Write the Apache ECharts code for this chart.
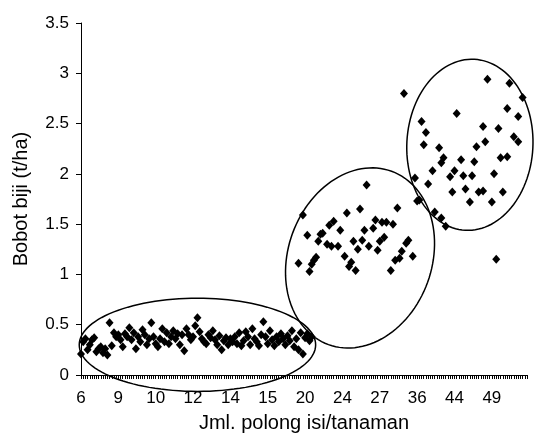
<!DOCTYPE html>
<html>
<head>
<meta charset="utf-8">
<script src="https://cdn.jsdelivr.net/npm/echarts@6/dist/echarts.min.js"></script>
<style>html,body{margin:0;padding:0;background:#fff}#c{width:539px;height:444px}</style>
</head>
<body>
<div id="c"></div>
<script>
// x-axis: 204 plants (sorted by pod count); a label every 17th plant
var tickLabels = ['6','9','10','12','14','15','20','24','27','36','44','49'];
var categoryCount = 204;
var labelStep = 17;

// Cluster 1: plants 0..105 (low yield)
var cluster1Y = [0.21,0.33,0.36,0.25,0.30,0.35,0.37,0.23,0.26,0.28,0.22,0.26,0.20,
  0.52,0.29,0.42,0.38,0.40,0.35,0.28,0.41,0.38,0.47,0.35,0.42,0.26,
  0.38,0.33,0.45,0.40,0.30,0.36,0.52,0.38,0.31,0.28,0.36,0.46,0.33,0.42,0.31,
  0.38,0.44,0.36,0.41,0.30,0.40,0.24,0.46,0.40,0.35,0.38,0.49,0.57,0.43,0.36,
  0.33,0.31,0.40,0.37,0.44,0.35,0.30,0.39,0.25,0.34,0.37,0.30,0.36,0.33,0.38,
  0.31,0.42,0.29,0.34,0.43,0.38,0.30,0.46,0.36,0.33,0.29,0.40,0.53,0.38,0.31,
  0.44,0.35,0.29,0.38,0.33,0.41,0.36,0.30,0.39,0.34,0.44,0.28,0.36,0.25,0.42,0.21,0.37,0.41,0.34,0.38];

// Cluster 2: plant index and yield
var cluster2X = [99,101,103,104,105,106,107,108,109,110,112,113,114,115,117,118,120,121,122,123,124,125,126,127,128,129,130,131,133,134,135,136,137,138,139,141,142,143,144,145,146,148,149,151];
var cluster2Y = [1.11,1.59,1.39,1.03,1.10,1.14,1.17,1.33,1.40,1.41,1.30,1.49,1.28,1.53,1.28,1.44,1.18,1.61,1.08,1.12,1.33,1.04,1.25,1.65,1.34,1.44,1.89,1.28,1.46,1.54,1.24,1.33,1.52,1.37,1.52,1.04,1.50,1.14,1.66,1.16,1.23,1.31,1.34,1.18];

// Cluster 3: plant index and yield
var cluster3X = [147,152,153,154,155,156,157,158,160,161,163,164,164,166,165,168,169,170,171,173,174,175,177,178,179,180,181,183,183,184,185,187,188,189,190,191,192,194,194,195,197,199,199,201];
var cluster3Y = [2.80,1.96,1.73,1.74,2.52,2.29,2.41,1.90,2.03,1.62,2.26,2.11,1.56,1.48,2.16,1.97,1.82,2.03,2.60,2.14,1.98,1.85,1.72,1.98,2.12,2.27,1.82,1.83,2.47,2.32,2.94,1.72,2.00,1.15,2.45,2.16,1.82,2.17,2.65,2.90,2.37,2.32,2.57,2.76];

// Ellipses: [centre index, centre yield, half-width (plants), half-height (t/ha), tilt deg]
var ellipses = [[53.3,0.30,53.8,0.463,0],[126.5,1.164,32.7,0.917,20],[177,2.289,28.7,0.851,3]];

var categories = [];
for (var i = 0; i < categoryCount; i++) {
  categories.push(i % labelStep === 0 && tickLabels[i / labelStep] !== undefined ? tickLabels[i / labelStep] : '');
}
function pairs(xs, ys) { return xs.map(function (x, k) { return [x, ys[k]]; }); }
var c1 = cluster1Y.map(function (v, k) { return [k, v]; });

var FONT = 'Liberation Sans, Arial, sans-serif';
var markerSize = [8, 9];
var markerStyle = {color: '#000', opacity: 1};

var chart = echarts.init(document.getElementById('c'), null, {renderer: 'canvas'});
chart.setOption({
  animation: false,
  backgroundColor: '#fff',
  grid: {left: 81, right: 12, top: 23, bottom: 69},
  xAxis: {
    type: 'category', data: categories, boundaryGap: false,
    name: 'Jml. polong isi/tanaman', nameLocation: 'middle', nameGap: 38,
    nameTextStyle: {fontFamily: FONT, fontSize: 20, color: '#000'},
    axisLine: {lineStyle: {color: '#000', width: 1}},
    axisTick: {show: true, interval: 0, length: 4, lineStyle: {color: '#000', width: 1}},
    axisLabel: {interval: labelStep - 1, margin: 15, fontFamily: FONT, fontSize: 17, color: '#000'},
    splitLine: {show: false}
  },
  yAxis: {
    type: 'value', min: 0, max: 3.5, interval: 0.5,
    name: 'Bobot biji (t/ha)', nameLocation: 'middle', nameGap: 50,
    nameTextStyle: {fontFamily: FONT, fontSize: 20, color: '#000'},
    axisLine: {show: true, lineStyle: {color: '#000', width: 1}},
    axisTick: {show: true, length: 5, lineStyle: {color: '#000'}},
    axisLabel: {margin: 12, fontFamily: FONT, fontSize: 17, color: '#000'},
    splitLine: {show: false}
  },
  series: [
    {type: 'scatter', data: c1, symbol: 'diamond', symbolSize: markerSize, itemStyle: markerStyle},
    {type: 'scatter', data: pairs(cluster2X, cluster2Y), symbol: 'diamond', symbolSize: markerSize, itemStyle: markerStyle},
    {type: 'scatter', data: pairs(cluster3X, cluster3Y), symbol: 'diamond', symbolSize: markerSize, itemStyle: markerStyle},
    {
      type: 'custom', data: ellipses, silent: true, clip: false, z: 5,
      renderItem: function (params, api) {
        var c = api.coord([api.value(0), api.value(1)]);
        var step = api.coord([1, 0])[0] - api.coord([0, 0])[0];
        var a = step * api.value(2);
        var b = Math.abs(api.coord([0, 0])[1] - api.coord([0, api.value(3)])[1]);
        var th = api.value(4) * Math.PI / 180;
        var pts = [];
        for (var t = 0; t <= 120; t++) {
          var ang = t / 120 * Math.PI * 2;
          var x = a * Math.cos(ang), y = b * Math.sin(ang);
          pts.push([c[0] + x * Math.cos(th) - y * Math.sin(th), c[1] + x * Math.sin(th) + y * Math.cos(th)]);
        }
        return {type: 'polygon', shape: {points: pts}, style: {fill: 'none', stroke: '#000', lineWidth: 1.5}};
      }
    }
  ]
});
</script>
</body>
</html>
